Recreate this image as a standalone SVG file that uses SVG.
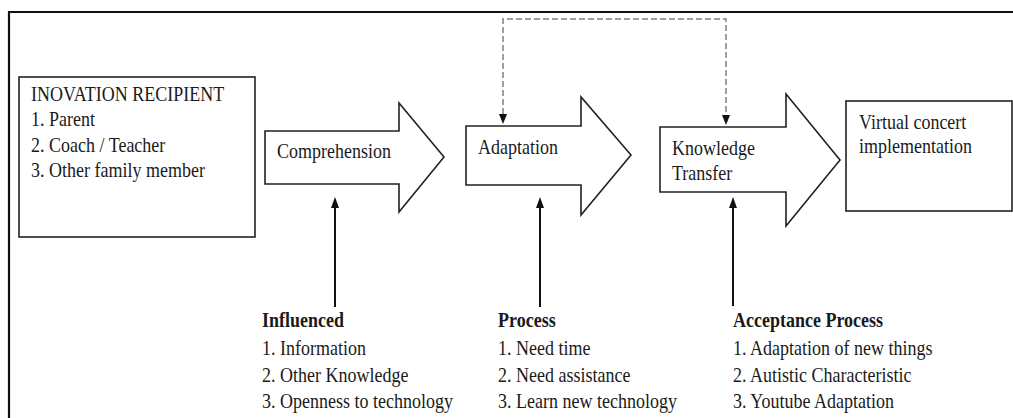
<svg xmlns="http://www.w3.org/2000/svg" width="1013" height="418" viewBox="0 0 1013 418">
<style>
.t{font-family:"Liberation Serif","Times New Roman",serif;font-size:18px;fill:#1a1a1a}
.b{font-weight:bold}
.shape{fill:#fff;stroke:#222;stroke-width:1.6}
.solid{stroke:#111;stroke-width:2;fill:none}
.dash{stroke:#808080;stroke-width:1.5;fill:none;stroke-dasharray:6 3}
.head{fill:#111}
</style>
<rect width="1013" height="418" fill="#fff"/>
<path d="M9,418 V12 H1013" fill="none" stroke="#111" stroke-width="2.2"/>

<g id="recipient">
<rect class="shape" x="19" y="77" width="236" height="160"/>
<g transform="scale(1,1.12)">
<text class="t" x="31" y="90.18">INOVATION RECIPIENT</text>
<text class="t" x="31" y="112.5">1. Parent</text>
<text class="t" x="31" y="135.71">2. Coach / Teacher</text>
<text class="t" x="31" y="158.04">3. Other family member</text>
</g>
</g>

<g id="comprehension">
<path class="shape" d="M265,131 H399 V103 L444,157 L399,212 V184 H265 Z"/>
<g transform="scale(1,1.12)">
<text class="t" x="277" y="141.07">Comprehension</text>
</g>
</g>

<g id="adaptation">
<path class="shape" d="M466,126 H581 V97 L631,155 L581,215 V185 H466 Z"/>
<g transform="scale(1,1.12)">
<text class="t" x="478" y="137.5">Adaptation</text>
</g>
</g>

<g id="knowledge">
<path class="shape" d="M660,127 H786 V94 L840,160 L786,226 V192 H660 Z"/>
<g transform="scale(1,1.12)">
<text class="t" x="672" y="138.39">Knowledge</text>
<text class="t" x="672" y="160.71">Transfer</text>
</g>
</g>

<g id="virtual">
<rect class="shape" x="846" y="101" width="166" height="110"/>
<g transform="scale(1,1.12)">
<text class="t" x="859" y="115.18">Virtual concert</text>
<text class="t" x="859" y="136.61">implementation</text>
</g>
</g>

<g id="influenced" transform="scale(1,1.12)">
<text class="t b" x="262" y="291.96">Influenced</text>
<text class="t" x="262" y="316.96">1. Information</text>
<text class="t" x="262" y="341.07">2. Other Knowledge</text>
<text class="t" x="262" y="364.29">3. Openness to technology</text>
</g>

<g id="process" transform="scale(1,1.12)">
<text class="t b" x="498" y="291.96">Process</text>
<text class="t" x="498" y="316.96">1. Need time</text>
<text class="t" x="498" y="341.07">2. Need assistance</text>
<text class="t" x="498" y="364.29">3. Learn new technology</text>
</g>

<g id="acceptance" transform="scale(1,1.12)">
<text class="t b" x="733" y="291.96">Acceptance Process</text>
<text class="t" x="733" y="316.96">1. Adaptation of new things</text>
<text class="t" x="733" y="341.07">2. Autistic Characteristic</text>
<text class="t" x="733" y="364.29">3. Youtube Adaptation</text>
</g>

<g id="connectors">
<path class="solid" d="M335,307 V206"/>
<path class="head" d="M331,208 L335,197 L339,208 Z"/>
<path class="solid" d="M540,307 V206"/>
<path class="head" d="M536,208 L540,197 L544,208 Z"/>
<path class="solid" d="M733,306 V206"/>
<path class="head" d="M729,208 L733,197 L737,208 Z"/>
<path class="dash" d="M503,114 V19 H726 V114"/>
<path class="head" d="M499,114 L507,114 L503,124 Z"/>
<path class="head" d="M722,115 L730,115 L726,125 Z"/>
</g>
</svg>
